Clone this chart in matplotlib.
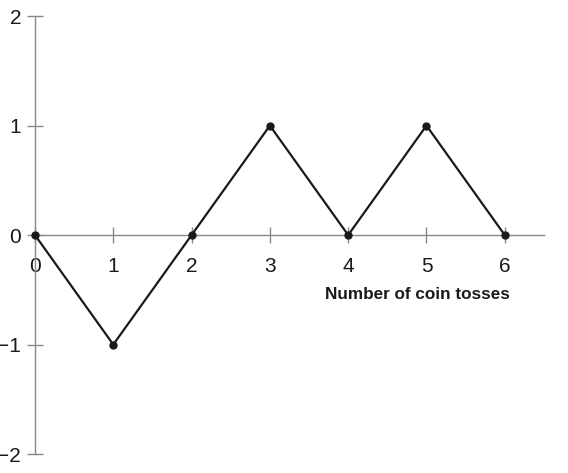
import matplotlib
matplotlib.use("Agg")
import matplotlib.pyplot as plt

# Data
tosses = [0, 1, 2, 3, 4, 5, 6]
position = [0, -1, 0, 1, 0, 1, 0]
x_ticks = [0, 1, 2, 3, 4, 5, 6]
y_ticks = [-2, -1, 0, 1, 2]

plt.rcParams['font.family'] = ['Liberation Sans', 'DejaVu Sans']

fig = plt.figure(figsize=(5.68, 4.73), dpi=100)
ax = fig.add_axes([0.0616, 0.040, 0.896, 0.926])

ax.plot(tosses, position, color='#1a1a1a', lw=1.6, marker='o', markersize=5,
        clip_on=False, zorder=3)

ax.set_xlim(0, 6.5)
ax.set_ylim(-2, 2)

ax.spines['left'].set_position(('data', 0))
ax.spines['bottom'].set_position(('data', 0))
ax.spines['top'].set_visible(False)
ax.spines['right'].set_visible(False)
for s in ('left', 'bottom'):
    ax.spines[s].set_color('#888888')
    ax.spines[s].set_linewidth(1.0)

ax.set_xticks(x_ticks)
ax.set_yticks(y_ticks)
ax.set_yticklabels([str(v).replace('-', '\u2212') for v in y_ticks])
ax.tick_params(axis='both', direction='inout', length=12, width=1.0,
               color='#888888', labelsize=15, labelcolor='#1a1a1a')
ax.tick_params(axis='x', pad=10)
ax.tick_params(axis='y', pad=4)

ax.text(4.88, -0.54, 'Number of coin tosses', ha='center', va='center',
        fontsize=12.3, fontweight='bold', color='#1a1a1a')

fig.savefig('out.png', dpi=100)
